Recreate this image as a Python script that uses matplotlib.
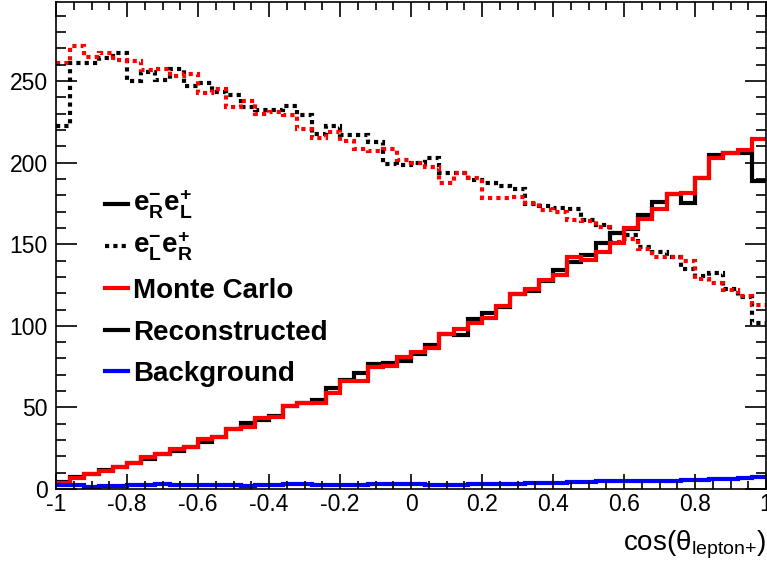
import numpy as np
import matplotlib
matplotlib.use('Agg')
import matplotlib.pyplot as plt
from matplotlib.lines import Line2D
from matplotlib.ticker import MultipleLocator, FuncFormatter

plt.rcParams['font.family'] = ['Liberation Sans', 'DejaVu Sans']
plt.rcParams['mathtext.fontset'] = 'custom'
plt.rcParams['mathtext.rm'] = 'Liberation Sans'
plt.rcParams['mathtext.it'] = 'Liberation Sans:italic'
plt.rcParams['mathtext.bf'] = 'Liberation Sans:bold'
plt.rcParams['axes.unicode_minus'] = False

# 50 bins in cos(theta) from -1 to 1
edges = np.linspace(-1, 1, 51)

# e-_R e+_L : Monte Carlo (red) and reconstructed (black)
mc_rl = [3.5, 6.5, 9.2, 11.0, 13.7, 16.1, 19.8, 21.4, 24.3, 25.9,
         30.4, 32.0, 36.6, 38.2, 43.3, 44.0, 50.9, 52.5, 52.9, 59.0,
         66.2, 66.2, 75.0, 75.6, 81.1, 84.1, 86.2, 95.0, 97.8, 101.5,
         104.6, 112.1, 119.3, 122.4, 128.1, 131.1, 142.4, 140.3, 145.4, 150.9,
         159.7, 165.2, 171.4, 180.8, 181.6, 190.4, 202.6, 205.7, 207.7, 214.3]
rec_rl = [4.0, 7.5, 9.0, 11.5, 13.5, 16.0, 18.5, 21.5, 23.0, 26.0,
          29.0, 32.0, 36.6, 40.5, 42.5, 45.0, 51.0, 52.5, 54.5, 61.7,
          66.8, 70.9, 76.4, 77.0, 78.4, 82.5, 88.2, 95.0, 94.4, 104.0,
          107.6, 111.3, 119.3, 121.5, 127.6, 134.2, 139.3, 143.4, 150.9, 156.7,
          159.1, 167.9, 176.1, 180.8, 175.1, 190.4, 204.7, 205.7, 206.1, 188.7]

# e-_L e+_R : Monte Carlo (red dotted) and reconstructed (black dotted)
mc_lr = [261.4, 271.4, 264.9, 267.0, 262.9, 262.4, 256.7, 257.4, 253.0, 254.1,
         242.8, 244.9, 234.3, 237.7, 229.6, 231.2, 229.2, 220.4, 214.9, 218.9,
         213.4, 208.7, 207.1, 208.7, 201.6, 199.6, 197.1, 187.3, 193.4, 190.4,
         178.1, 178.1, 178.7, 175.0, 171.0, 169.9, 164.8, 164.4, 160.7, 151.5,
         153.0, 146.9, 142.4, 142.0, 139.7, 128.5, 126.4, 121.9, 118.3, 112.7]
rec_lr = [222.6, 261.4, 261.4, 263.9, 267.0, 250.0, 255.7, 250.6, 257.4, 247.0,
          248.6, 243.5, 241.4, 233.9, 232.2, 232.2, 235.0, 229.2, 217.5, 222.6,
          216.9, 216.9, 212.8, 199.1, 198.3, 200.0, 202.6, 193.8, 193.8, 189.7,
          187.7, 185.9, 183.6, 174.6, 173.4, 172.0, 171.4, 164.8, 161.8, 156.7,
          155.6, 148.5, 145.4, 142.0, 134.6, 130.5, 132.6, 122.3, 117.9, 101.5]

background = [2.6, 2.5, 1.0, 1.8, 1.9, 2.2, 2.3, 3.0, 2.4, 2.3,
              2.4, 2.5, 2.3, 1.9, 2.6, 2.7, 2.8, 2.8, 2.7, 2.5,
              2.3, 2.6, 2.8, 3.0, 2.9, 2.9, 2.2, 2.4, 2.6, 2.8,
              3.0, 3.2, 3.3, 3.5, 3.6, 3.8, 4.3, 4.5, 4.6, 4.8,
              4.9, 5.0, 5.2, 4.8, 5.4, 5.8, 6.0, 6.3, 7.0, 7.3]

legend_labels = [r'$\mathbf{e^{-}_{R}e^{+}_{L}}$', r'$\mathbf{e^{-}_{L}e^{+}_{R}}$',
                 'Monte Carlo', 'Reconstructed', 'Background']

fig = plt.figure(figsize=(7.67, 5.61), dpi=100)
ax = fig.add_axes([56 / 767, 72 / 561, 710 / 767, 487 / 561])

dots = (0, (1, 1))
ax.stairs(rec_lr, edges, color='black', lw=3, linestyle=dots, baseline=None)
ax.stairs(mc_lr, edges, color='red', lw=3, linestyle=dots, baseline=None)
ax.stairs(rec_rl, edges, color='black', lw=3, baseline=None)
ax.stairs(mc_rl, edges, color='red', lw=3, baseline=None)
ax.stairs(background, edges, color='blue', lw=3, baseline=None)

ax.set_xlim(-1, 1)
ax.set_ylim(0, 298.5)

ax.xaxis.set_major_locator(MultipleLocator(0.2))
ax.xaxis.set_minor_locator(MultipleLocator(0.05))
ax.yaxis.set_major_locator(MultipleLocator(50))
ax.yaxis.set_minor_locator(MultipleLocator(10))
ax.tick_params(which='both', direction='in', top=True, right=True, width=1.2,
               labelsize=16.5)
ax.tick_params(axis='x', which='major', length=11, pad=3)
ax.tick_params(axis='x', which='minor', length=5.5)
ax.tick_params(axis='y', which='major', length=15, pad=6)
ax.tick_params(axis='y', which='minor', length=7.5)
ax.xaxis.set_major_formatter(FuncFormatter(lambda v, p: '%g' % round(v, 2)))
for s in ax.spines.values():
    s.set_linewidth(1.2)

fig.text(766 / 767, 1 - 545 / 561, r'cos($\mathrm{θ}_{\mathrm{lepton{+}}}$)',
         ha='right', va='center', fontsize=20)

# legend, one row per entry
styles = [('black', '-'), ('black', dots), ('red', '-'), ('black', '-'), ('blue', '-')]
rows_y = [204, 246, 288, 330, 371]
for (c, ls), lab, yp in zip(styles, legend_labels, rows_y):
    yf = 1 - yp / 561
    fig.add_artist(Line2D([105 / 767, 128 / 767], [yf, yf], color=c, lw=3,
                          linestyle=ls, transform=fig.transFigure))
    fig.text(133 / 767, yf, lab, ha='left', va='center_baseline' if lab[0] != '$' else 'center',
             fontsize=20, fontweight='bold')

fig.savefig('out.png', dpi=100)
